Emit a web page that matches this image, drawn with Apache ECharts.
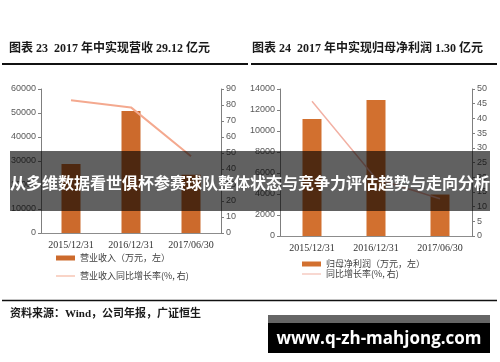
<!DOCTYPE html>
<html><head><meta charset="utf-8">
<script src="https://cdn.jsdelivr.net/npm/echarts@6/dist/echarts.min.js"></script>
<style>html,body{margin:0;padding:0;background:#fff}#c{width:500px;height:362px}</style>
</head><body><div id="c"></div>
<script>
var categories = ['2015/12/31', '2016/12/31', '2017/06/30'];
var revenue = [28700, 50800, 24300];
var revenueGrowth = [83, 78.5, 48];
var profit = [11150, 12950, 3950];
var profitGrowth = [45.8, 19.5, 12.7];
var leftTicks = [0, 60000, 10000];
var leftRightTicks = [0, 90, 10];
var rightTicks = [0, 14000, 2000];
var rightRightTicks = [0, 50, 5];

var chart = echarts.init(document.getElementById('c'));
var CJK = '"Noto Sans CJK SC", sans-serif';
var SERIF = '"Liberation Serif", "Noto Sans CJK SC", serif';
var axisLbl = {fontSize: 9, color: '#595959', fontFamily: 'Liberation Sans'};
function yAx(gi, ticks, pos) {
  return {
    type: 'value', gridIndex: gi, position: pos, min: ticks[0], max: ticks[1], interval: ticks[2],
    splitLine: {show: false},
    axisLine: {show: true, lineStyle: {color: '#7f7f7f', width: 1}},
    axisTick: {show: true, length: 3, lineStyle: {color: '#7f7f7f'}},
    axisLabel: Object.assign({margin: 5, formatter: function (v) { return String(v); }}, axisLbl)
  };
}
function xAx(gi) {
  return {
    type: 'category', gridIndex: gi, data: categories,
    axisTick: {show: false},
    axisLine: {lineStyle: {color: '#8c8c8c'}},
    axisLabel: {fontSize: 10, color: '#333', fontFamily: 'Liberation Serif', margin: 7}
  };
}
var lineIcon = 'path://M0,0 L0.01,0 L0.01,0.01 Z M0,2 L19,2 L19,3 L0,3 Z M0,5 L0.01,5 L0.01,4.99 Z';
var option = {
  animation: false,
  grid: [
    {left: 41, right: 279, top: 89, bottom: 129},
    {left: 280, right: 28, top: 89, bottom: 126}
  ],
  xAxis: [xAx(0), xAx(1)],
  yAxis: [yAx(0, leftTicks, 'left'), yAx(0, leftRightTicks, 'right'), yAx(1, rightTicks, 'left'), yAx(1, rightRightTicks, 'right')],
  legend: [
    {orient: 'vertical', left: 56, top: 252, itemWidth: 19, itemHeight: 5, itemGap: 6, padding: 0,
     textStyle: {fontSize: 9, lineHeight: 12, color: '#404040', fontFamily: CJK},
     data: [{name: '营业收入（万元，左）', icon: 'rect'}, {name: '营业收入同比增长率(%, 右)', icon: lineIcon}]},
    {orient: 'vertical', left: 302, top: 259, itemWidth: 19, itemHeight: 5, itemGap: 0, padding: 0,
     textStyle: {fontSize: 9, lineHeight: 10, color: '#404040', fontFamily: CJK},
     data: [{name: '归母净利润（万元，左）', icon: 'rect'}, {name: '同比增长率(%, 右)', icon: lineIcon}]}
  ],
  series: [
    {name: '营业收入（万元，左）', type: 'bar', xAxisIndex: 0, yAxisIndex: 0, data: revenue, barWidth: 19, itemStyle: {color: '#cc6a2c'}},
    {name: '营业收入同比增长率(%, 右)', type: 'line', xAxisIndex: 0, yAxisIndex: 1, data: revenueGrowth, symbol: 'none', lineStyle: {color: '#f4a98f', width: 2}, itemStyle: {color: '#f4a98f'}},
    {name: '归母净利润（万元，左）', type: 'bar', xAxisIndex: 1, yAxisIndex: 2, data: profit, barWidth: 19, itemStyle: {color: '#d2702f'}},
    {name: '同比增长率(%, 右)', type: 'line', xAxisIndex: 1, yAxisIndex: 3, data: profitGrowth, symbol: 'none', lineStyle: {color: '#f2b1a4', width: 1.5}, itemStyle: {color: '#f2b1a4'}}
  ],
  graphic: [
    {type: 'text', z: 50, style: {x: 9, y: 49, text: '图表 23  2017 年中实现营收 29.12 亿元', font: 'bold 12px ' + SERIF, fill: '#1a1a1a', textAlign: 'left', textVerticalAlign: 'middle'}},
    {type: 'text', z: 50, style: {x: 252, y: 49, text: '图表 24  2017 年中实现归母净利润 1.30 亿元', font: 'bold 12px ' + SERIF, fill: '#1a1a1a', textAlign: 'left', textVerticalAlign: 'middle'}},
    {type: 'line', z: 50, shape: {x1: 2, y1: 64, x2: 248, y2: 64}, style: {stroke: '#111', lineWidth: 2}},
    {type: 'line', z: 50, shape: {x1: 251, y1: 64, x2: 497, y2: 64}, style: {stroke: '#111', lineWidth: 2}},
    {type: 'line', z: 50, shape: {x1: 2, y1: 300.5, x2: 497, y2: 300.5}, style: {stroke: '#111', lineWidth: 1.5}},
    {type: 'text', z: 50, style: {x: 10, y: 314, text: '资料来源：Wind，公司年报，广证恒生', font: 'bold 11px ' + SERIF, fill: '#1a1a1a', textAlign: 'left', textVerticalAlign: 'middle'}},
    {type: 'rect', z: 100, shape: {x: 10, y: 151, width: 480, height: 60}, style: {fill: 'rgba(0,0,0,0.62)'}},
    {type: 'text', z: 101, style: {x: 250, y: 183, text: '从多维数据看世俱杯参赛球队整体状态与竞争力评估趋势与走向分析', font: 'bold 16px ' + CJK, fill: '#ffffff', textAlign: 'center', textVerticalAlign: 'middle'}},
    {type: 'rect', z: 100, shape: {x: 268, y: 315, width: 222, height: 38}, style: {fill: '#000'}},
    {type: 'rect', z: 100, shape: {x: 268, y: 315, width: 222, height: 8}, style: {fill: '#666'}},
    {type: 'text', z: 101, style: {x: 379, y: 339, text: 'www.q-zh-mahjong.com', font: 'bold 17px "Open Sans", sans-serif', fill: '#ffffff', textAlign: 'center', textVerticalAlign: 'middle'}}
  ]
};
chart.setOption(option);
</script></body></html>
